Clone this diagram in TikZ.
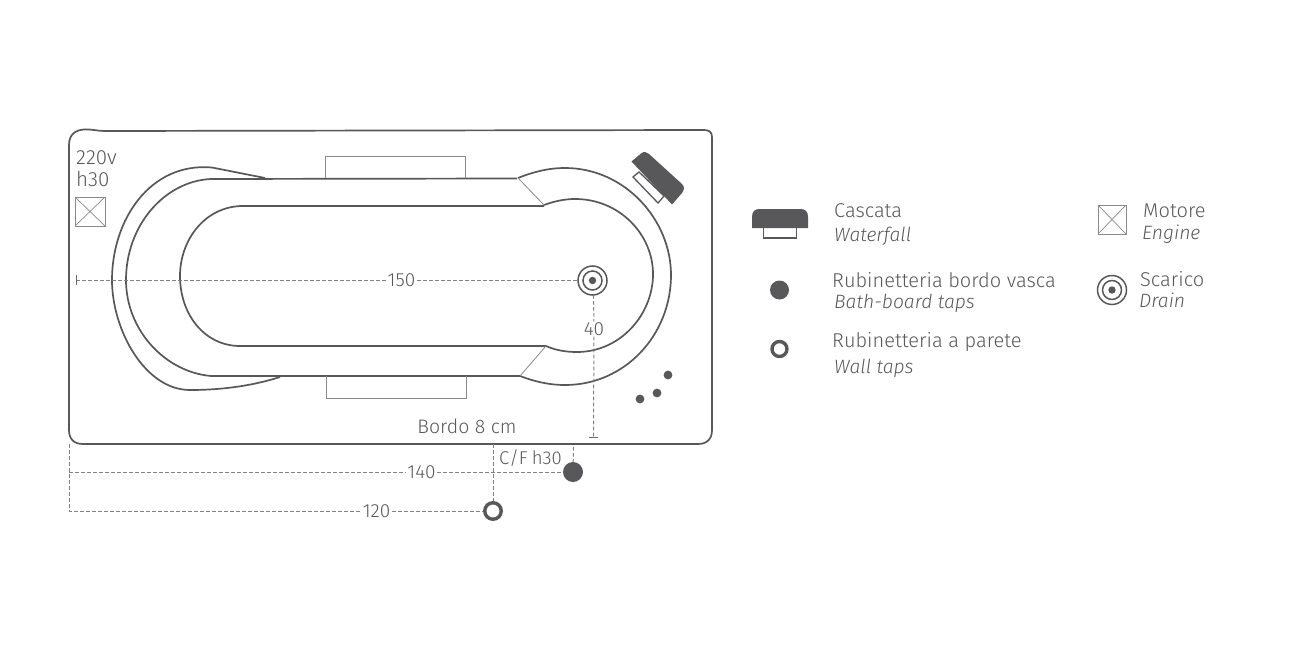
\documentclass[tikz,border=0pt]{standalone}
\usepackage{fontspec}
\setmainfont{Fira Sans}[UprightFont=* Light,ItalicFont=* Light Italic]
\usepackage{tikz}
\usetikzlibrary{calc}
\definecolor{vasca}{HTML}{58585A}
\tikzset{
	contour/.style={draw=vasca,line width=1.7pt},
	thinline/.style={draw=vasca!70,line width=1pt},
	quota/.style={draw=vasca!75,line width=1pt,dash pattern=on 3.6pt off 2.4pt},
	label/.style={text=vasca,inner sep=1.5pt,font=\fontsize{19}{21}\selectfont},
	legendtext/.style={text=vasca,inner sep=0pt,anchor=west,font=\fontsize{20}{22}\selectfont},
	legenditalic/.style={legendtext,font=\fontsize{19.3}{22}\selectfont\itshape},
	tapfull/.style={circle,fill=vasca,inner sep=0pt,minimum size=#1},
	tapwall/.style={circle,draw=vasca,fill=white,line width=3.4pt,inner sep=0pt,minimum size=#1},
}
\newcommand{\drainmark}[2]{
	\draw[vasca,line width=1.5pt] (#1) circle (14.5);
	\draw[vasca,line width=1.5pt] (#1) circle (9.5);
	\fill[vasca] (#1) circle (3.7);
	\coordinate (#2) at (#1);
}
\newcommand{\motormark}[4]{
	\draw[thinline] (#1,#2) rectangle (#3,#4);
	\draw[thinline,line width=.7pt] (#1,#2) -- (#3,#4) (#1,#4) -- (#3,#2);
}
\begin{document}
\begin{tikzpicture}[x=1pt,y=-1pt]
	\useasboundingbox (0,0) rectangle (1300,650);
	% bordo esterno
	\draw[contour] (69,145) .. controls (69,134) and (76,130) .. (84,129.5) .. controls (92,129) and (96,131) .. (106,131) -- (704,130) .. controls (709,130) and (712,132) .. (712,137) -- (712,430) .. controls (712,439) and (707,444) .. (698,444) -- (83,444) .. controls (74,444) and (69,439) .. (69,430) -- cycle;
	% vasca
	\draw[contour] (265,178) -- (212,167.5) .. controls (150,162) and (112,220) .. (112,280) .. controls (112,330) and (145,390) .. (190,390) .. controls (225,390) and (255,385) .. (280,377);
	\draw[contour] (517,178.5) -- (211,179) .. controls (165,181) and (126,225) .. (126,280) .. controls (126,330) and (165,372) .. (211,376) -- (520,376);
	\draw[contour] (544,206) -- (243,206) .. controls (205,206) and (180,240) .. (180,276) .. controls (180,315) and (205,346) .. (240,346) -- (546,346);
	\draw[contour] (518,178) .. controls (533,172) and (548,168) .. (565,168) .. controls (625,168) and (671,220) .. (671,275) .. controls (671,335) and (625,385) .. (565,385) .. controls (548,385) and (533,381) .. (520,376);
	\draw[contour] (544,205) .. controls (555,201) and (565,199) .. (575,199) .. controls (620,199) and (653,235) .. (653,274) .. controls (653,315) and (620,352) .. (577,352) .. controls (565,352) and (555,350) .. (546,346);
	\draw[thinline,line width=.8pt] (518,178) -- (544,205);
	\draw[thinline,line width=.8pt] (520,376) -- (546,346);
	\draw[thinline] (325,178) |- (465,156) -- (465,178);
	\draw[thinline] (326,376) |- (466,398) -- (466,376);
	% cascata
	\draw[thinline,draw=vasca,line width=1.3pt,fill=white] (633,177) -- (639,172) -- (664,196) -- (658,203) -- cycle;
	\fill[vasca] (631.5,161.5) -- (641,153.5) .. controls (644,151) and (647,152) .. (649,154) -- (682,184) .. controls (685,187) and (684,190) .. (682,193) -- (672,204.5) -- cycle;
	% fori
	\fill[vasca] (668,375) circle (4.4);
	\fill[vasca] (657,393) circle (4.4);
	\fill[vasca] (640,399) circle (4.4);
	% motore
	\node[label,anchor=west,font=\fontsize{20.5}{22}\selectfont] (voltage) at (74.5,158) {220v};
	\node[label,anchor=west,font=\fontsize{20.5}{22}\selectfont] (height) at (74.5,179) {h30};
	\motormark{75}{197}{105}{226}
	% scarico
	\drainmark{592.5,280.5}{drain}
	% quote
	\coordinate (start150) at (76,280);
	\coordinate (end40) at (593.5,437);
	\node[label,fill=white] (q150) at (401.5,280) {150};
	\node[label,fill=white,inner sep=1pt] (q40) at (594,329) {40};
	\draw[quota] (start150) -- (q150);
	\draw[quota] (q150) -- (578,280);
	\draw[quota] (593.5,295) -- (q40);
	\draw[quota] (q40) -- (end40);
	\draw[vasca!90,line width=1pt] (76,275) -- (76,285);
	\draw[vasca!90,line width=1pt] (589,437) -- (598,437);
	\node[label,font=\fontsize{19.5}{22}\selectfont] (edge) at (467,426) {Bordo 8 cm};
	\node[label,font=\fontsize{18.5}{22}\selectfont] (cf) at (530.5,458) {C/F\kern-1pt\ h30};
	\node[tapfull=20pt] (tapa) at (573,472) {};
	\node[tapwall=16.5pt] (tapb) at (493,511) {};
	\coordinate (cornerq) at (69,444);
	\coordinate (q140start) at (69,472);
	\coordinate (q120start) at (69,511);
	\node[label,fill=white] (q140) at (421.5,472) {140};
	\node[label,fill=white] (q120) at (376.5,511) {120};
	\draw[quota] (cornerq) -- (q120start) -- (q120);
	\draw[quota] (q120) -- (tapb);
	\draw[quota] (q140start) -- (q140);
	\draw[quota] (q140) -- (tapa);
	\draw[quota] (493,444) -- (tapb);
	\draw[quota] (573.5,447) -- (tapa);
	% legenda
	\fill[vasca] (752,228) -- (752,217) .. controls (752,211) and (755,209) .. (760,209) -- (800,209) .. controls (805,209) and (808,211) .. (808,217) -- (808,228) -- cycle;
	\draw[thinline,draw=vasca,line width=1.3pt] (763.5,228) |- (796.5,238) -- (796.5,228);
	\node[legendtext] (cascata) at (834,211) {Cascata};
	\node[legenditalic] (waterfall) at (834,236) {Waterfall};
	\node[tapfull=19pt] (legfull) at (779.5,290) {};
	\node[legendtext] (bordo) at (832,280) {Rubinetteria bordo vasca};
	\node[legenditalic] (bath) at (834,303) {Bath-board taps};
	\node[tapwall=15pt] (legwall) at (779.5,349) {};
	\node[legendtext] (parete) at (832,342) {Rubinetteria a parete};
	\node[legenditalic] (wall) at (834,368) {Wall taps};
	\motormark{1098}{205}{1126}{234}
	\node[legendtext] (motore) at (1143,211) {Motore};
	\node[legenditalic] (engine) at (1142,234) {Engine};
	\drainmark{1112,290}{legdrain}
	\node[legendtext] (scarico) at (1140,279) {Scarico};
	\node[legenditalic] (draintext) at (1139,300) {Drain};
\end{tikzpicture}
\end{document}
